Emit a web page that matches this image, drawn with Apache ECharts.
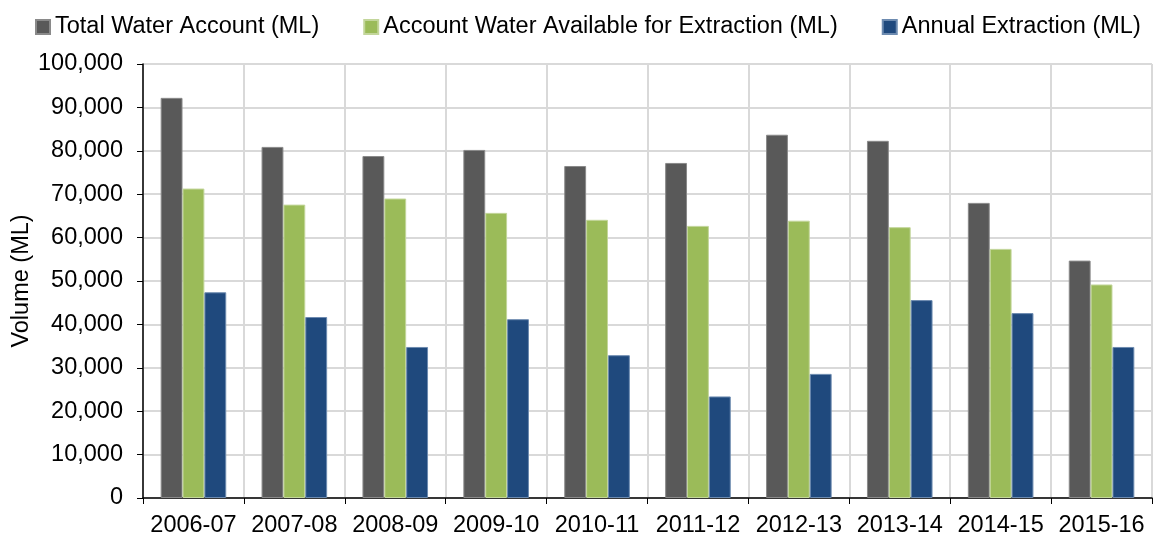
<!DOCTYPE html>
<html>
<head>
<meta charset="utf-8">
<script src="https://cdn.jsdelivr.net/npm/echarts@6/dist/echarts.min.js"></script>
<style>
  html, body { margin: 0; padding: 0; background: #fff; }
  #main { width: 1154px; height: 539px; }
</style>
</head>
<body>
<div id="main"></div>
<script>
var years = ['2006-07', '2007-08', '2008-09', '2009-10', '2010-11', '2011-12', '2012-13', '2013-14', '2014-15', '2015-16'];
var totalWater = [92200, 80900, 78800, 80200, 76500, 77200, 83700, 82300, 68000, 54700];
var availableWater = [71300, 67600, 69000, 65700, 64100, 62700, 63900, 62400, 57400, 49200];
var annualExtraction = [47400, 41700, 34800, 41200, 32900, 23400, 28600, 45600, 42600, 34800];

var myChart = echarts.init(document.getElementById('main'));
var font = 'Liberation Sans, Arial, sans-serif';

option = {
    animation: false,
    textStyle: { fontFamily: font },
    legend: {
        left: 30,
        top: 10,
        itemWidth: 14,
        itemHeight: 14,
        itemGap: 44,
        icon: 'rect',
        textStyle: { fontSize: 23.5, color: '#000', fontFamily: font },
        data: ['Total Water Account (ML)', 'Account Water Available for Extraction (ML)', 'Annual Extraction (ML)']
    },
    grid: {
        left: 143,
        right: 2,
        top: 64,
        bottom: 41,
        outerBoundsMode: 'none'
    },
    xAxis: {
        type: 'category',
        data: years,
        axisLine: { lineStyle: { color: '#000', width: 1.5 } },
        axisTick: { show: true, interval: 0, length: 6, lineStyle: { color: '#000' } },
        axisLabel: { interval: 0, fontSize: 23.5, color: '#000', margin: 16, fontFamily: font },
        splitLine: { show: true, interval: 0, lineStyle: { color: '#d9d9d9', width: 2 } }
    },
    yAxis: {
        type: 'value',
        min: 0,
        max: 100000,
        interval: 10000,
        name: 'Volume (ML)',
        nameLocation: 'middle',
        nameGap: 109,
        nameMoveOverlap: false,
        nameTextStyle: { fontSize: 23.5, color: '#000', fontFamily: font },
        axisLine: { show: true, lineStyle: { color: '#000', width: 1.5 } },
        axisTick: { show: true, length: 6, lineStyle: { color: '#000' } },
        axisLabel: {
            fontSize: 23.5, color: '#000', margin: 20, fontFamily: font,
            formatter: function (v) { return v.toLocaleString('en-US'); }
        },
        splitLine: { show: true, lineStyle: { color: '#d9d9d9', width: 2 } }
    },
    series: [
        {
            name: 'Total Water Account (ML)',
            type: 'bar',
            data: totalWater,
            barGap: '0%',
            barCategoryGap: '35%',
            itemStyle: { color: '#595959', borderColor: '#8a8a8a', borderWidth: 1 }
        },
        {
            name: 'Account Water Available for Extraction (ML)',
            type: 'bar',
            data: availableWater,
            itemStyle: { color: '#9bbb59', borderColor: '#c3d69b', borderWidth: 1 }
        },
        {
            name: 'Annual Extraction (ML)',
            type: 'bar',
            data: annualExtraction,
            itemStyle: { color: '#1f497d', borderColor: '#6d8bb0', borderWidth: 1 }
        }
    ]
};

myChart.setOption(option);
</script>
</body>
</html>
